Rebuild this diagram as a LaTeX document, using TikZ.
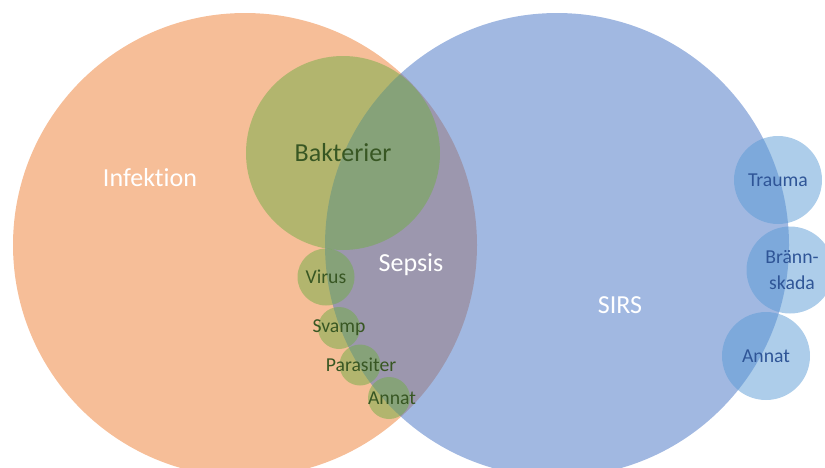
\documentclass[tikz,border=0pt]{standalone}
\usepackage{fontspec}
\setmainfont{Carlito}[Ligatures={NoCommon}]
\usepackage{tikz}
\usetikzlibrary{positioning}
\definecolor{infectionorange}{HTML}{ED7D31}
\definecolor{sirsblue}{HTML}{4472C4}
\definecolor{causegreen}{HTML}{70AD47}
\definecolor{otherblue}{HTML}{5B9BD5}
\definecolor{causetext}{HTML}{385723}
\definecolor{othertext}{HTML}{2F5597}

\begin{document}
\begin{tikzpicture}[
  x=1pt,y=-1pt,
  set/.style={circle,inner sep=0pt,fill opacity=0.5,text opacity=1},
  bigtext/.style={font=\fontsize{26}{28}\selectfont},
  smalltext/.style={font=\fontsize{19.7}{26}\selectfont,align=center},
  cause/.style={set,fill=causegreen},
  causelabel/.style={smalltext,text=causetext,inner sep=0pt},
  other/.style={set,fill=otherblue,minimum size=88pt},
  otherlabel/.style={smalltext,text=othertext,inner sep=0pt}
  ]
  \clip (0,0) rectangle (825,467);
  % the two main sets
  \node (infektion) [set,fill=infectionorange,minimum size=464pt] at (245,245) {};
  \node (sirs)      [set,fill=sirsblue,minimum size=464pt]        at (557,245) {};
  % causes of infection
  \node (bakterier) [cause,bigtext,text=causetext,minimum size=194pt] at (343,153) {Bakterier};
  \node (virus)     [cause,minimum size=57pt,label={[causelabel]center:Virus}] at (326,277) {};
  \node (svamp)     [cause,minimum size=42pt,label={[causelabel]center:Svamp}] at (339,328) {};
  \node (parasiter) [cause,minimum size=41pt,label={[causelabel,xshift=1pt]center:Parasiter}] at (360,365) {};
  \node (annat)     [cause,minimum size=42pt,label={[causelabel,xshift=3pt]center:Annat}] at (389,398) {};
  % other causes of SIRS
  \node (trauma)     [other,label={[otherlabel]center:Trauma}] at (778,180) {};
  \node (brannskada) [other,minimum size=87pt,label={[otherlabel,xshift=2pt]center:Bränn-\\skada}] at (790,270) {};
  \node (annatsirs)  [other,label={[otherlabel]center:Annat}] at (766,356) {};
  % labels of the sets
  \node (infektionlabel) [bigtext,text=white] at (150,178) {Infektion};
  \node (sepsislabel)    [bigtext,text=white] at (411,265) {Sepsis};
  \node (sirslabel)      [bigtext,text=white] at (620,305) {SIRS};
\end{tikzpicture}
\end{document}
